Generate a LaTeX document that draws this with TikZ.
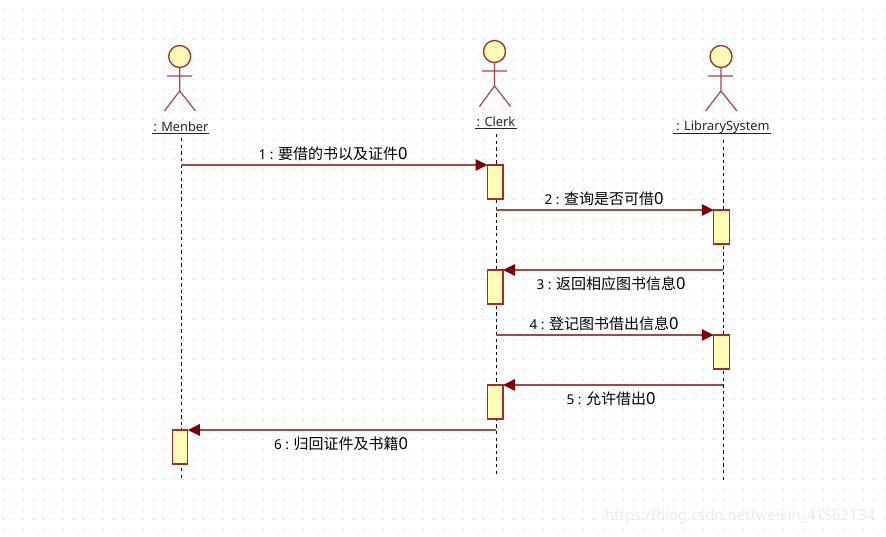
\documentclass[tikz,border=0pt]{standalone}
\usepackage{fontspec}
\setmainfont{Noto Sans}
\newfontfamily\cjk{Noto Sans CJK SC}
\usetikzlibrary{arrows.meta}
\definecolor{umlline}{HTML}{A04A4A}
\definecolor{umlborder}{HTML}{A02C2C}
\definecolor{umlfill}{HTML}{FFFDB5}
\definecolor{umlhead}{HTML}{800000}
\definecolor{griddot}{HTML}{CCCCCC}
\definecolor{labeltext}{HTML}{1E2630}
\tikzset{
  griddotstyle/.style={fill=griddot},
  activebox/.style={draw=umlborder,fill=umlfill,line width=1.3pt,minimum width=15.5pt,minimum height=34pt,inner sep=0pt,outer sep=0pt},
  actorhead/.style={circle,draw=umlborder,fill=umlfill,line width=1.3pt,minimum size=22pt,inner sep=0pt,outer sep=0pt},
  actorline/.style={draw=umlline,line width=1.2pt},
  lifeline/.style={draw=black,line width=0.95pt,dash pattern=on 3.4pt off 3.2pt},
  msg/.style={draw=umlline,line width=1.5pt,-{Triangle[length=12pt,width=11.5pt,color=umlhead,fill=umlhead]}},
  objlabel/.style={text=labeltext,font=\fontsize{12.8}{14}\selectfont,inner sep=0pt},
  underlinestyle/.style={draw=labeltext,line width=1.1pt},
  msglabel/.style={text=black,font=\fontsize{13.5}{15}\selectfont,inner sep=0pt},
  watermark/.style={text=gray!16,font=\fontsize{14.8}{16}\selectfont,inner sep=0pt}
}
\newcommand{\zh}[1]{{\cjk\fontsize{15}{16}\selectfont #1}{\fontsize{16.5}{16}\selectfont 0}}
\begin{document}
\begin{tikzpicture}[x=1pt,y=-1pt]
\useasboundingbox (0,0) rectangle (886,536);
\fill[white] (0,0) rectangle (886,536);
% dotted canvas
\foreach \gx in {3,13,...,883}
  \foreach \gy in {9,19,...,529}
    \fill[griddotstyle] (\gx-0.5,\gy-0.5) rectangle (\gx+0.5,\gy+0.5);
% lifeline ends
\coordinate (mtop) at (181,138); \coordinate (mbot) at (181,480);
\coordinate (ctop) at (496,134); \coordinate (cbot) at (496,475);
\coordinate (ltop) at (723,140); \coordinate (lbot) at (723,480);
\draw[lifeline] (mtop) -- (mbot);
\draw[lifeline] (ctop) -- (cbot);
\draw[lifeline] (ltop) -- (lbot);
% actors
\node[actorhead] (mh) at (179.7,56.5) {};
\coordinate (mhip) at (179.7,91);
\coordinate (mal) at (167,76); \coordinate (mar) at (192,76);
\coordinate (mll) at (164.5,111); \coordinate (mlr) at (195.5,111);
\draw[actorline] (mh.south) -- (mhip) (mal) -- (mar) (mll) -- (mhip) -- (mlr);
\node[actorhead] (ch) at (494.5,51.5) {};
\coordinate (chip) at (494.5,86);
\coordinate (cal) at (482,71); \coordinate (car) at (507,71);
\coordinate (cll) at (479.5,106.5); \coordinate (clr) at (510.5,106.5);
\draw[actorline] (ch.south) -- (chip) (cal) -- (car) (cll) -- (chip) -- (clr);
\node[actorhead] (lh) at (721,56.5) {};
\coordinate (lhip) at (721,91);
\coordinate (lal) at (708,76); \coordinate (lar) at (733,76);
\coordinate (lll) at (705.5,111); \coordinate (llr) at (737,111);
\draw[actorline] (lh.south) -- (lhip) (lal) -- (lar) (lll) -- (lhip) -- (llr);
% object labels
\node[objlabel] (mlabel) at (181,127) {: Menber};
\draw[underlinestyle] (152,133.7) -- (209,133.7);
\node[objlabel] (clabel) at (496,122) {: Clerk};
\draw[underlinestyle] (475,128.7) -- (517,128.7);
\node[objlabel] (llabel) at (723,127) {: LibrarySystem};
\draw[underlinestyle] (673,133.7) -- (771,133.7);
% activations
\node[activebox] (a1) at (495.3,182) {};
\node[activebox] (b1) at (721.5,227) {};
\node[activebox] (a2) at (495.3,287) {};
\node[activebox] (b2) at (721.5,352) {};
\node[activebox] (a3) at (495.3,402) {};
\node[activebox] (m1) at (180,447) {};
% message end points
\coordinate (s1) at (181,165);
\coordinate (e1) at (a1.north west);
\coordinate (s2) at (496,210);
\coordinate (e2) at (b1.north west);
\coordinate (s3) at (723,270);
\coordinate (e3) at (a2.north east);
\coordinate (s4) at (496,335);
\coordinate (e4) at (b2.north west);
\coordinate (s5) at (723,385);
\coordinate (e5) at (a3.north east);
\coordinate (s6) at (496,430);
\coordinate (e6) at (m1.north east);
\draw[msg] (s1) -- (e1);
\draw[msg] (s2) -- (e2);
\draw[msg] (s3) -- (e3);
\draw[msg] (s4) -- (e4);
\draw[msg] (s5) -- (e5);
\draw[msg] (s6) -- (e6);
% message labels
\node[msglabel] (t1) at (333,154) {1 : \zh{要借的书以及证件}};
\node[msglabel] (t2) at (604,199) {2 : \zh{查询是否可借}};
\node[msglabel] (t3) at (611,284) {3 : \zh{返回相应图书信息}};
\node[msglabel] (t4) at (604,324) {4 : \zh{登记图书借出信息}};
\node[msglabel] (t5) at (611,399) {5 : \zh{允许借出}};
\node[msglabel] (t6) at (341,444) {6 : \zh{归回证件及书籍}};
% watermark
\node[watermark,anchor=west] (wm) at (605,517) {https://blog.csdn.net/weixin\_41562134};
\end{tikzpicture}
\end{document}
